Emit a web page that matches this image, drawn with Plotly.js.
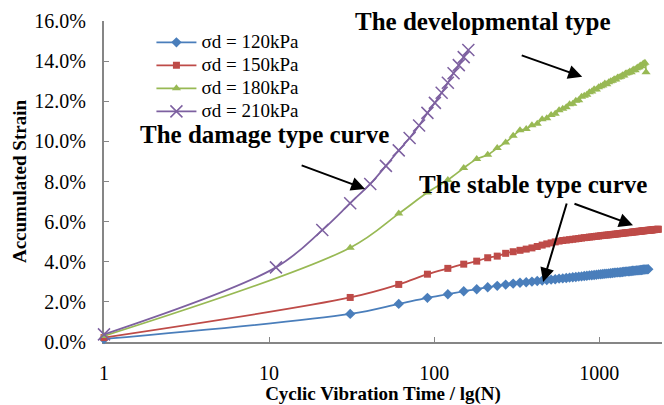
<!DOCTYPE html>
<html>
<head>
<meta charset="utf-8">
<script src="https://cdn.plot.ly/plotly-3.0.1.min.js"></script>
<style>html,body{margin:0;padding:0;background:#fff;}#chart{width:664px;height:405px;}</style>
</head>
<body>
<div id="chart"></div>
<script>
// Cycle numbers N (shared by the 120/150/180 kPa tests)
const cycles = [1,31,61,91,121,151,181,211,241,271,301,331,361,391,421,451,481,511,541,571,601,631,661,691,721,751,781,811,841,871,901,931,961,991,1021,1051,1081,1111,1141,1171,1201,1231,1261,1291,1321,1351,1381,1411,1441,1471,1501,1531,1561,1591,1621,1651,1681,1711,1741,1771,1801,1831,1861,1891,1921,1951,1981,2011,2041,2071,2101,2131,2161,2191,2221,2251,2281];
const cycles210 = [1,11,21,31,41,51,61,71,81,91,101,111,121,131,141,151,161];

// Accumulated strain (%)
const strain120 = [0.15,1.40,1.90,2.20,2.38,2.53,2.63,2.73,2.80,2.86,2.91,2.95,2.98,3.01,3.04,3.06,3.09,3.11,3.13,3.16,3.17,3.19,3.21,3.23,3.24,3.26,3.27,3.29,3.30,3.32,3.33,3.34,3.35,3.37,3.38,3.39,3.40,3.41,3.42,3.43,3.44,3.45,3.46,3.47,3.47,3.48,3.49,3.50,3.51,3.52,3.52,3.53,3.54,3.55,3.55,3.56,3.57,3.57,3.58,3.59,3.59,3.60,3.61,3.61,3.62,3.62,3.63];
const strain150 = [0.22,2.22,2.87,3.38,3.67,3.88,4.03,4.20,4.28,4.42,4.50,4.57,4.63,4.69,4.76,4.83,4.89,4.94,4.99,5.03,5.06,5.08,5.10,5.12,5.14,5.16,5.18,5.20,5.21,5.23,5.24,5.26,5.27,5.28,5.30,5.31,5.32,5.33,5.34,5.35,5.36,5.37,5.38,5.39,5.40,5.41,5.42,5.43,5.44,5.45,5.45,5.46,5.47,5.48,5.49,5.49,5.50,5.51,5.52,5.52,5.53,5.54,5.54,5.55,5.56,5.56,5.57,5.57,5.58,5.58,5.59,5.60,5.60,5.61,5.61,5.62,5.62];
const strain180 = [0.30,4.70,6.40,7.45,8.08,8.67,9.12,9.33,9.67,9.95,10.28,10.55,10.62,10.80,10.88,11.10,11.15,11.32,11.38,11.55,11.62,11.70,11.85,11.88,12.02,12.05,12.22,12.28,12.32,12.45,12.48,12.60,12.58,12.70,12.75,12.78,12.88,12.85,12.95,13.00,13.02,13.10,13.08,13.18,13.20,13.22,13.30,13.28,13.38,13.40,13.42,13.48,13.45,13.55,13.58,13.55,13.65,13.68,13.70,13.78,13.75,13.85,13.88,13.92,13.45];
const strain210 = [0.38,3.72,5.58,6.92,7.88,8.78,9.55,10.17,10.79,11.42,11.92,12.42,12.92,13.40,13.80,14.20,14.55];

const seriesNames = ['σd = 120kPa','σd = 150kPa','σd = 180kPa','σd = 210kPa'];
const xTickVals = [1,10,100,1000];
const xTickText = ['1','10','100','1000'];

const colors = ['#4A7EBB','#BE4B48','#98B954','#7D60A0'];
const serif = 'Times New Roman';
const legendLabel = s => '<span style="font-size:19px">' + s + '</span>';

const traces = [
  {x: cycles.slice(0, strain120.length), y: strain120, name: legendLabel(seriesNames[0]),
   mode:'lines+markers', line:{color:colors[0], width:1.75, shape:'spline'},
   marker:{symbol:'diamond', size:8, color:colors[0]}, cliponaxis:false},
  {x: cycles.slice(0, strain150.length), y: strain150, name: legendLabel(seriesNames[1]),
   mode:'lines+markers', line:{color:colors[1], width:1.75, shape:'spline'},
   marker:{symbol:'square', size:7, color:colors[1]}, cliponaxis:false},
  {x: cycles.slice(0, strain180.length), y: strain180, name: legendLabel(seriesNames[2]),
   mode:'lines+markers', line:{color:colors[2], width:1.75, shape:'spline'},
   marker:{symbol:'triangle-up', size:8, color:colors[2]}, cliponaxis:false},
  {x: cycles210, y: strain210, name: legendLabel(seriesNames[3]),
   mode:'lines+markers', line:{color:colors[3], width:1.75, shape:'spline'},
   marker:{symbol:'x-thin', size:12, color:colors[3], line:{color:colors[3], width:1.5}}, cliponaxis:false}
];

const arrow = {showarrow:true, arrowhead:2, arrowsize:1.4, arrowwidth:2, arrowcolor:'#000', text:'', xref:'paper', yref:'paper', axref:'pixel', ayref:'pixel'};
const bold = {family: serif, size: 25, color:'#000', weight:'bold'};

const layout = {
  width:664, height:405,
  margin:{l:104, r:2, t:21, b:63},
  paper_bgcolor:'#fff', plot_bgcolor:'#fff',
  font:{family: serif, size:20, color:'#000'},
  showlegend:true,
  legend:{x:0.085, y:0.985, xanchor:'left', yanchor:'top', bgcolor:'rgba(0,0,0,0)', borderwidth:0,
          font:{family: serif, size:15.4, color:'#000'}, itemwidth:40, traceorder:'normal'},
  xaxis:{type:'log', range:[0, 3.38], tickvals:xTickVals, ticktext:xTickText,
         ticks:'inside', ticklen:5, tickwidth:1, tickcolor:'#868686',
         showline:true, linecolor:'#868686', linewidth:2, showgrid:false, zeroline:false,
         layer:'below traces', tickfont:{family: serif, size:20, color:'#000'}, ticklabelstandoff:12,
         title:{text:'Cyclic Vibration Time / lg(N)', font:{family: serif, size:19, weight:'bold', color:'#000'}, standoff:0}},
  yaxis:{range:[0,16], dtick:2, tickformat:'.1f', ticksuffix:'%',
         ticks:'inside', ticklen:5, tickwidth:1, tickcolor:'#868686',
         showline:true, linecolor:'#868686', linewidth:2, showgrid:false, zeroline:false,
         layer:'below traces', tickfont:{family: serif, size:20, color:'#000'}, ticklabelstandoff:12,
         title:{text:'Accumulated Strain', font:{family: serif, size:19, weight:'bold', color:'#000'}, standoff:3}},
  annotations:[
    {text:'The developmental type', x:0.68, y:0.997, xref:'paper', yref:'paper', showarrow:false, font:bold, xanchor:'center', yanchor:'middle'},
    {text:'The damage type curve', x:0.287, y:0.645, xref:'paper', yref:'paper', showarrow:false, font:bold, xanchor:'center', yanchor:'middle'},
    {text:'The stable type curve', x:0.769, y:0.49, xref:'paper', yref:'paper', showarrow:false, font:bold, xanchor:'center', yanchor:'middle'},
    Object.assign({}, arrow, {x:0.468, y:0.477, ax:-65, ay:-24}),
    Object.assign({}, arrow, {x:0.857, y:0.826, ax:-62, ay:-22}),
    Object.assign({}, arrow, {x:0.787, y:0.187, ax:24, ay:-80}),
    Object.assign({}, arrow, {x:0.948, y:0.364, ax:-60, ay:-22})
  ]
};

Plotly.newPlot('chart', traces, layout, {displayModeBar:false, staticPlot:true});
</script>
</body>
</html>
